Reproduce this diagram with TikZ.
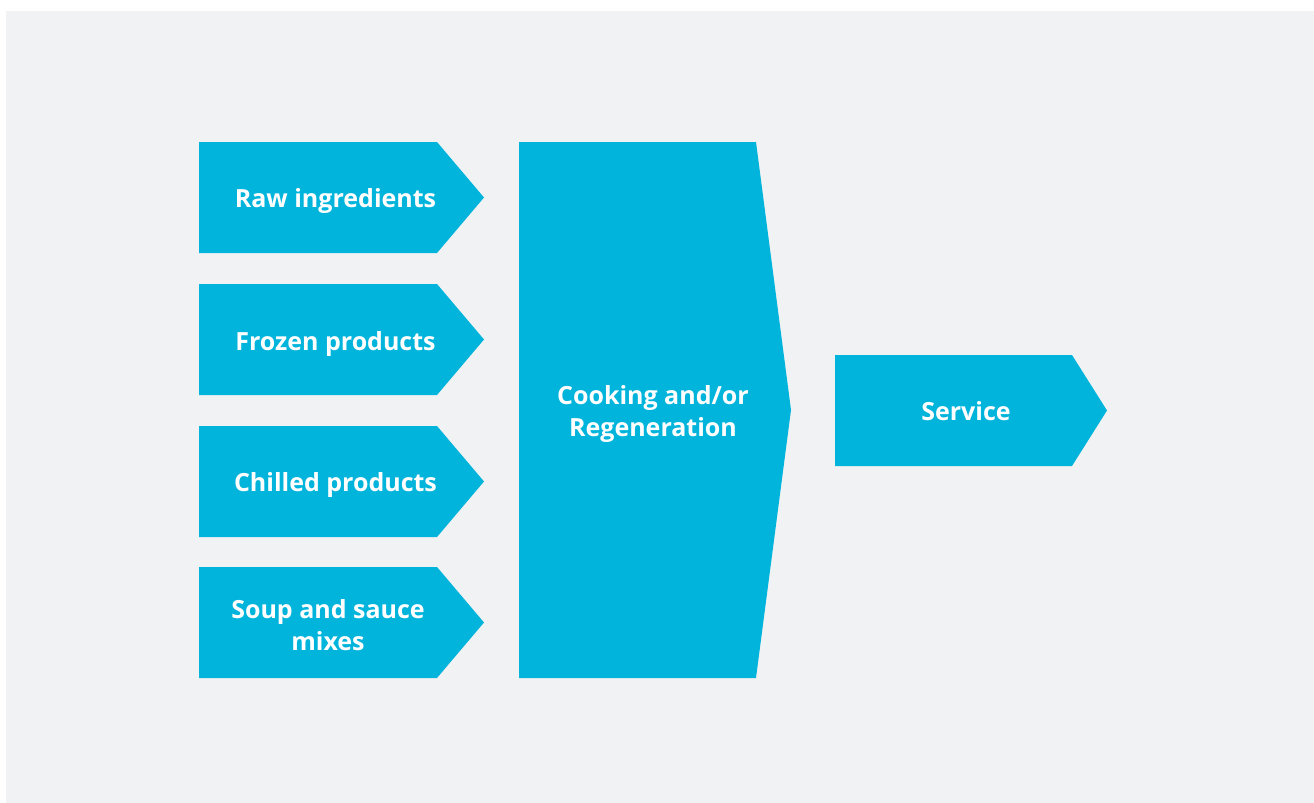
\documentclass[tikz,border=0pt]{standalone}
\usepackage{fontspec}
\setmainfont{Open Sans}
\definecolor{flowcyan}{HTML}{00B4DC}
\definecolor{pagegray}{HTML}{F1F2F4}
\tikzset{
    label text/.style={text=white, font=\bfseries\fontsize{12.5}{16}\selectfont, align=center},
}
\begin{document}
\begin{tikzpicture}[x=0.5pt, y=-0.5pt]
    % Fix the page size and draw the background
    \useasboundingbox (0, 0) rectangle (1314, 803);
    \fill[pagegray] (6, 11) rectangle (1314, 803);

    % Draw the four input arrows
    \foreach \y in {142, 284, 426, 567} {
        \fill[flowcyan] (199, \y) -- (437, \y) -- (484, \y + 55.5) -- (437, \y + 111) -- (199, \y + 111) -- cycle;
    }
    \node[label text] (raw) at (335.5, 201.5) {Raw ingredients};
    \node[label text] (frozen) at (335.5, 344) {Frozen products};
    \node[label text] (chilled) at (335.5, 485.5) {Chilled products};
    \node[label text] (soup) at (328, 625) {Soup and sauce\\mixes};

    % Draw the cooking block
    \fill[flowcyan] (519, 142) -- (756, 142) -- (791, 410) -- (756, 678) -- (519, 678) -- cycle;
    \node[label text] (cooking) at (653, 414) {Cooking and/or\\Regeneration};

    % Draw the service arrow
    \fill[flowcyan] (835, 355) -- (1072, 355) -- (1107, 410.5) -- (1072, 466) -- (835, 466) -- cycle;
    \node[label text] (service) at (966, 411) {Service};
\end{tikzpicture}
\end{document}
